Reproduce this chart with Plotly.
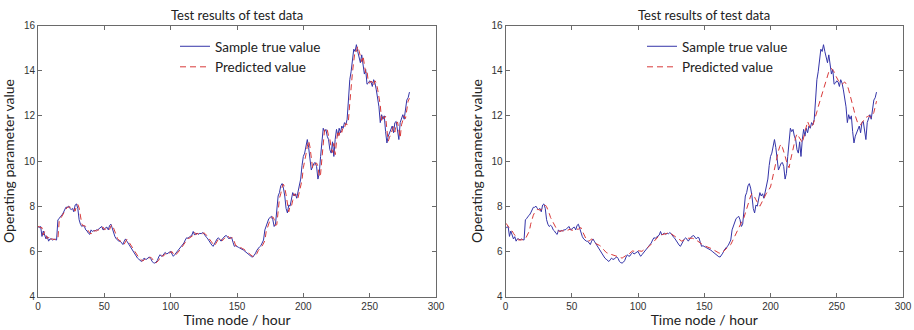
import plotly.graph_objects as go

# ---------------- data ----------------
true_values = [
    7.10, 7.05, 7.10, 6.66, 6.90, 6.75, 6.55, 6.65, 6.45, 6.55,
    6.55, 6.50, 6.55, 6.52, 6.50, 7.40, 7.45, 7.55, 7.60, 7.70,
    7.85, 7.95, 7.95, 8.00, 7.90, 7.85, 7.90, 7.75, 8.05, 8.10,
    7.90, 7.40, 7.20, 7.10, 7.15, 7.10, 6.95, 6.90, 6.80, 6.75,
    6.95, 6.88, 6.92, 6.90, 6.95, 6.95, 7.00, 7.05, 7.10, 6.95,
    6.98, 7.05, 7.07, 6.95, 7.15, 7.20, 7.00, 6.85, 6.65, 6.55,
    6.50, 6.45, 6.45, 6.38, 6.30, 6.45, 6.55, 6.45, 6.35, 6.25,
    6.15, 6.10, 6.00, 5.90, 5.80, 5.70, 5.65, 5.60, 5.55, 5.62,
    5.70, 5.65, 5.65, 5.72, 5.75, 5.68, 5.55, 5.50, 5.48, 5.52,
    5.60, 5.75, 5.85, 5.78, 5.80, 5.90, 5.95, 5.88, 5.92, 5.98,
    6.00, 5.88, 5.78, 5.85, 5.92, 6.00, 6.07, 6.15, 6.25, 6.30,
    6.37, 6.50, 6.60, 6.58, 6.63, 6.68, 6.72, 6.88, 6.72, 6.78,
    6.80, 6.75, 6.80, 6.78, 6.83, 6.78, 6.72, 6.62, 6.55, 6.45,
    6.35, 6.28, 6.22, 6.35, 6.48, 6.55, 6.60, 6.52, 6.45, 6.55,
    6.63, 6.68, 6.70, 6.62, 6.55, 6.62, 6.60, 6.40, 6.22, 6.25,
    6.20, 6.18, 6.15, 6.12, 6.10, 6.05, 6.00, 5.95, 5.92, 5.85,
    5.78, 5.76, 5.75, 5.82, 5.92, 6.05, 6.15, 6.20, 6.25, 6.35,
    6.50, 6.95, 7.10, 7.25, 7.45, 7.50, 7.55, 7.40, 7.10, 7.20,
    7.85, 8.45, 8.60, 8.90, 9.00, 8.80, 8.45, 7.90, 7.70, 8.05,
    8.00, 8.30, 8.60, 8.45, 8.55, 8.35, 8.65, 8.90, 9.20, 9.80,
    10.20, 10.35, 10.70, 10.95, 10.60, 10.05, 9.60, 9.75, 9.90, 9.93,
    9.75, 9.20, 9.45, 10.20, 10.95, 11.45, 11.30, 11.40, 11.10, 10.95,
    10.50, 10.35, 10.85, 10.20, 10.95, 11.40, 11.10, 11.45, 11.25, 11.55,
    11.45, 11.70, 11.60, 11.85, 12.70, 13.60, 13.95, 14.50, 14.95, 14.85,
    15.15, 14.85, 14.65, 14.35, 14.70, 14.20, 13.85, 14.05, 13.40, 13.45,
    13.55, 13.50, 13.30, 13.60, 13.45, 13.15, 12.85, 12.40, 11.70, 12.05,
    11.85, 12.00, 11.30, 10.80, 11.10, 11.25, 11.40, 11.55, 11.25, 11.70,
    11.75, 11.40, 10.95, 11.70, 11.85, 12.05, 11.85, 12.40, 12.70, 12.80,
    13.05,
]

pred_left = [
    7.08, 7.10, 7.05, 7.05, 6.72, 6.88, 6.72, 6.57, 6.63, 6.48,
    6.55, 6.55, 6.51, 6.54, 6.52, 6.55, 7.35, 7.45, 7.55, 7.60,
    7.70, 7.85, 7.95, 7.95, 7.98, 7.90, 7.86, 7.88, 7.78, 8.02,
    8.08, 7.92, 7.45, 7.22, 7.12, 7.14, 7.10, 6.96, 6.90, 6.82,
    6.77, 6.92, 6.89, 6.92, 6.90, 6.94, 6.95, 7.00, 7.05, 7.08,
    6.96, 6.98, 7.04, 7.06, 6.97, 7.13, 7.18, 7.02, 6.86, 6.68,
    6.56, 6.50, 6.46, 6.45, 6.38, 6.32, 6.44, 6.53, 6.46, 6.36,
    6.27, 6.17, 6.11, 6.02, 5.92, 5.82, 5.72, 5.66, 5.61, 5.57,
    5.62, 5.68, 5.65, 5.66, 5.71, 5.74, 5.68, 5.57, 5.51, 5.49,
    5.53, 5.60, 5.74, 5.83, 5.79, 5.81, 5.89, 5.94, 5.89, 5.92,
    5.97, 5.99, 5.89, 5.80, 5.85, 5.91, 5.99, 6.06, 6.14, 6.23,
    6.29, 6.36, 6.48, 6.58, 6.58, 6.62, 6.67, 6.71, 6.85, 6.74,
    6.78, 6.79, 6.76, 6.79, 6.78, 6.82, 6.78, 6.73, 6.64, 6.56,
    6.47, 6.37, 6.29, 6.24, 6.34, 6.46, 6.54, 6.59, 6.53, 6.47,
    6.54, 6.62, 6.67, 6.69, 6.63, 6.56, 6.61, 6.60, 6.43, 6.25,
    6.25, 6.21, 6.18, 6.16, 6.13, 6.10, 6.06, 6.01, 5.96, 5.92,
    5.86, 5.79, 5.77, 5.76, 5.81, 5.90, 6.03, 6.13, 6.19, 6.24,
    6.33, 6.47, 6.88, 7.07, 7.22, 7.40, 7.48, 7.53, 7.42, 7.15,
    7.18, 7.75, 8.35, 8.55, 8.85, 8.97, 8.82, 8.50, 7.98, 7.75,
    8.00, 7.99, 8.25, 8.55, 8.46, 8.53, 8.37, 8.60, 8.85, 9.15,
    9.70, 10.10, 10.30, 10.65, 10.90, 10.62, 10.12, 9.68, 9.74, 9.87,
    9.91, 9.77, 9.28, 9.42, 10.10, 10.85, 11.38, 11.30, 11.38, 11.12,
    10.97, 10.56, 10.38, 10.78, 10.28, 10.85, 11.33, 11.13, 11.40, 11.27,
    11.50, 11.46, 11.66, 11.61, 11.80, 12.55, 13.45, 13.90, 14.42, 14.88,
    14.85, 15.08, 14.88, 14.68, 14.40, 14.65, 14.25, 13.90, 14.00, 13.48,
    13.45, 13.53, 13.50, 13.33, 13.55, 13.46, 13.18, 12.90, 12.47, 11.80,
    12.00, 11.87, 11.98, 11.38, 10.88, 11.05, 11.22, 11.37, 11.52, 11.28,
    11.65, 11.73, 11.45, 11.02, 11.60, 11.82, 12.00, 11.88, 12.32, 12.65,
    12.78,
]

pred_right = [
    7.25, 7.20, 7.10, 7.05, 6.95, 6.90, 6.80, 6.70, 6.60, 6.55,
    6.50, 6.50, 6.52, 6.50, 6.52, 6.55, 6.65, 6.78, 6.90, 7.20,
    7.45, 7.60, 7.72, 7.80, 7.85, 7.85, 7.82, 7.85, 7.92, 8.00,
    8.05, 7.98, 7.85, 7.68, 7.50, 7.38, 7.28, 7.15, 7.05, 6.98,
    6.90, 6.88, 6.90, 6.92, 6.90, 6.93, 6.92, 6.95, 6.97, 6.98,
    6.93, 6.95, 6.98, 6.97, 6.98, 6.98, 7.02, 7.05, 6.90, 6.75,
    6.60, 6.52, 6.48, 6.45, 6.50, 6.55, 6.48, 6.40, 6.35, 6.32,
    6.30, 6.26, 6.22, 6.18, 6.08, 6.00, 5.95, 5.92, 5.90, 5.88,
    5.85, 5.83, 5.80, 5.78, 5.76, 5.75, 5.72, 5.70, 5.70, 5.74,
    5.80, 5.82, 5.85, 5.86, 5.93, 6.00, 6.02, 6.00, 6.02, 6.03,
    6.03, 6.02, 6.00, 6.00, 6.05, 6.08, 6.10, 6.15, 6.20, 6.25,
    6.30, 6.37, 6.44, 6.50, 6.57, 6.63, 6.70, 6.72, 6.74, 6.75,
    6.76, 6.78, 6.80, 6.82, 6.83, 6.78, 6.74, 6.70, 6.67, 6.63,
    6.60, 6.55, 6.50, 6.45, 6.48, 6.52, 6.55, 6.57, 6.58, 6.59,
    6.60, 6.58, 6.56, 6.55, 6.50, 6.45, 6.40, 6.36, 6.32, 6.28,
    6.25, 6.23, 6.21, 6.20, 6.16, 6.13, 6.10, 6.06, 6.02, 5.98,
    5.95, 5.93, 5.91, 5.90, 5.96, 6.03, 6.10, 6.15, 6.20, 6.25,
    6.30, 6.42, 6.55, 6.65, 6.76, 6.90, 7.05, 7.17, 7.28, 7.40,
    7.50, 7.68, 7.87, 8.08, 8.30, 8.45, 8.55, 8.48, 8.40, 8.28,
    8.15, 8.08, 8.00, 8.12, 8.25, 8.38, 8.50, 8.58, 8.65, 8.75,
    8.85, 9.10, 9.40, 9.62, 9.85, 10.15, 10.45, 10.65, 10.75, 10.60,
    10.45, 10.22, 10.00, 9.85, 9.70, 10.00, 10.30, 10.60, 10.90, 11.05,
    11.20, 11.12, 11.05, 10.92, 10.80, 11.02, 11.25, 11.50, 11.75, 11.60,
    11.45, 11.52, 11.60, 11.78, 11.95, 12.18, 12.40, 12.60, 12.80, 13.00,
    13.20, 13.42, 13.65, 13.80, 13.95, 14.03, 14.10, 14.02, 13.95, 13.80,
    13.65, 13.58, 13.50, 13.45, 13.40, 13.45, 13.50, 13.42, 13.35, 13.15,
    12.95, 12.72, 12.50, 12.25, 12.00, 11.82, 11.65, 11.62, 11.60, 11.70,
    11.78, 11.85, 11.93, 11.96, 12.00, 11.96, 11.93, 12.05, 12.15, 12.40,
    12.65,
]

x_tick_vals = [0, 50, 100, 150, 200, 250, 300]
y_tick_vals = [4, 6, 8, 10, 12, 14, 16]

chart_title = "Test results of test data"
x_title = "Time node / hour"
y_title = "Operating parameter value"
series_names = ["Sample true value", "Predicted value"]

# ---------------- figure ----------------
W, H = 914, 330
BLUE = "#3434a8"
RED = "#d83a3a"
FONT = "Lato"

def xs(arr):
    return list(range(len(arr)))

fig = go.Figure()
panels = [("x", "y", pred_left, "legend"), ("x2", "y2", pred_right, "legend2")]
for xa, ya, pred, leg in panels:
    fig.add_trace(go.Scatter(
        x=xs(true_values), y=true_values, mode="lines", name=series_names[0],
        line=dict(color=BLUE, width=1), xaxis=xa, yaxis=ya, legend=leg))
    fig.add_trace(go.Scatter(
        x=xs(pred), y=pred, mode="lines", name=series_names[1],
        line=dict(color=RED, width=1, dash="6px,4px"), xaxis=xa, yaxis=ya, legend=leg))

y_dom = [1 - 296.5 / H, 1 - 25.5 / H]
x_doms = [[38 / W, 436 / W], [505.5 / W, 903 / W]]
y_standoffs = [8, 5]

axis_common = dict(
    showgrid=False, zeroline=False, showline=True, linecolor="#6a6a6a", linewidth=1,
    mirror="allticks", ticks="inside", ticklen=4, tickcolor="#6a6a6a", automargin=False,
    tickfont=dict(family="Liberation Sans", size=10, color="#333333"),
)

layout = dict(
    width=W, height=H, margin=dict(l=0, r=0, t=0, b=0, autoexpand=False),
    paper_bgcolor="white", plot_bgcolor="white",
    font=dict(family=FONT, color="#222222"),
)
for i, dom in enumerate(x_doms):
    sx = "" if i == 0 else str(i + 1)
    layout["xaxis" + sx] = dict(axis_common, domain=dom, range=[0, 300], tickvals=x_tick_vals,
                                anchor="y" + sx, title=dict(text=x_title, font=dict(size=14, family=FONT), standoff=4))
    layout["yaxis" + sx] = dict(axis_common, domain=y_dom, range=[4, 16], tickvals=y_tick_vals,
                                anchor="x" + sx, title=dict(text=y_title, font=dict(size=14, family=FONT),
                                                            standoff=y_standoffs[i]))

leg_common = dict(bgcolor="rgba(0,0,0,0)", borderwidth=0, font=dict(family=FONT, size=13.5, color="#222222"),
                  xanchor="left", yanchor="top", itemwidth=30, tracegroupgap=0)
layout["legend"] = dict(leg_common, x=175 / W, y=1 - 31 / H)
layout["legend2"] = dict(leg_common, x=642 / W, y=1 - 31 / H)
fig.update_layout(**layout)

for dom in x_doms:
    fig.add_annotation(text=chart_title, xref="paper", yref="paper",
                       x=(dom[0] + dom[1]) / 2, y=1 - 15 / H, xanchor="center", yanchor="middle",
                       showarrow=False, font=dict(family=FONT, size=13, color="#222222"))

fig.write_html("out.html", config={"displayModeBar": False},
               post_script="document.body.style.margin='0';document.body.style.overflow='hidden';")
